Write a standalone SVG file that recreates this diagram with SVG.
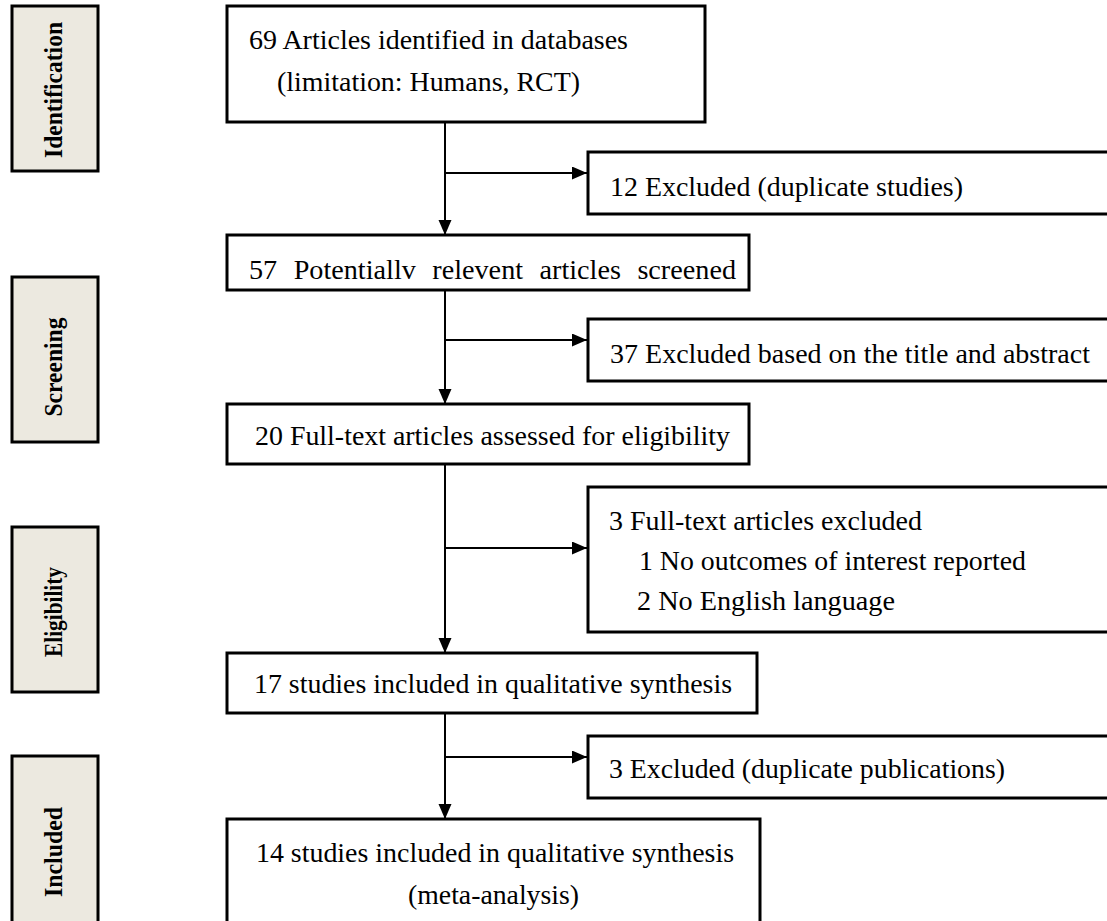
<svg xmlns="http://www.w3.org/2000/svg" width="1107" height="921" viewBox="0 0 1107 921">
<style>
.box{fill:#ffffff;stroke:#000000;stroke-width:3}
.side{fill:#ECE9E0;stroke:#000000;stroke-width:3}
.t{font-family:'Liberation Serif','Times New Roman',Times,serif;font-size:27px;fill:#000000}
.st{font-family:'Liberation Serif','Times New Roman',Times,serif;font-size:25px;font-weight:bold;fill:#000000}
.c{fill:none;stroke:#000000;stroke-width:2}
</style>
<defs>
<marker id="ah" markerUnits="userSpaceOnUse" markerWidth="16" markerHeight="14" refX="15" refY="6.5" orient="auto">
<path d="M0,0 L15,6.5 L0,13 Z" fill="#000000"/>
</marker>
</defs>
<rect width="1107" height="921" fill="#ffffff"/>
<g id="phase-identification">
<rect class="side" x="12" y="6" width="86" height="165"/>
<text class="st" x="62" y="90" text-anchor="middle" textLength="136" lengthAdjust="spacingAndGlyphs" transform="rotate(-90 62 90)">Identification</text>
</g>
<g id="phase-screening">
<rect class="side" x="12" y="277" width="86" height="165"/>
<text class="st" x="62" y="367" text-anchor="middle" textLength="99" lengthAdjust="spacingAndGlyphs" transform="rotate(-90 62 367)">Screening</text>
</g>
<g id="phase-eligibility">
<rect class="side" x="12" y="527" width="86" height="165"/>
<text class="st" x="62" y="612" text-anchor="middle" textLength="90" lengthAdjust="spacingAndGlyphs" transform="rotate(-90 62 612)">Eligibility</text>
</g>
<g id="phase-included">
<rect class="side" x="12" y="756" width="86" height="180"/>
<text class="st" x="62" y="852" text-anchor="middle" textLength="90" lengthAdjust="spacingAndGlyphs" transform="rotate(-90 62 852)">Included</text>
</g>
<g id="connectors">
<line class="c" x1="445" y1="122" x2="445" y2="235" marker-end="url(#ah)"/>
<line class="c" x1="445" y1="173" x2="587" y2="173" marker-end="url(#ah)"/>
<line class="c" x1="445" y1="290" x2="445" y2="404" marker-end="url(#ah)"/>
<line class="c" x1="445" y1="340" x2="587" y2="340" marker-end="url(#ah)"/>
<line class="c" x1="445" y1="464" x2="445" y2="653" marker-end="url(#ah)"/>
<line class="c" x1="445" y1="548" x2="587" y2="548" marker-end="url(#ah)"/>
<line class="c" x1="445" y1="713" x2="445" y2="819" marker-end="url(#ah)"/>
<line class="c" x1="445" y1="757" x2="587" y2="757" marker-end="url(#ah)"/>
</g>
<g id="n-identified">
<rect class="box" x="227" y="6" width="478" height="116"/>
<text class="t" x="249" y="49" textLength="379" lengthAdjust="spacingAndGlyphs">69 Articles identified in databases</text>
<text class="t" x="277" y="91" textLength="303" lengthAdjust="spacingAndGlyphs">(limitation: Humans, RCT)</text>
</g>
<g id="n-excl-duplicates">
<rect class="box" x="588" y="152" width="530" height="62"/>
<text class="t" x="610" y="196" textLength="353" lengthAdjust="spacingAndGlyphs">12 Excluded (duplicate studies)</text>
</g>
<g id="n-screened">
<rect class="box" x="227" y="235" width="522" height="55"/>
<text class="t" x="249" y="279" textLength="487" lengthAdjust="spacingAndGlyphs" word-spacing="9">57 Potentiallv relevent articles screened</text>
</g>
<g id="n-excl-title">
<rect class="box" x="588" y="319" width="530" height="62"/>
<text class="t" x="610" y="363" textLength="480" lengthAdjust="spacingAndGlyphs">37 Excluded based on the title and abstract</text>
</g>
<g id="n-fulltext">
<rect class="box" x="227" y="404" width="522" height="60"/>
<text class="t" x="255" y="445" textLength="475" lengthAdjust="spacingAndGlyphs">20 Full-text articles assessed for eligibility</text>
</g>
<g id="n-excl-fulltext">
<rect class="box" x="588" y="487" width="530" height="145"/>
<text class="t" x="609" y="530" textLength="313" lengthAdjust="spacingAndGlyphs">3 Full-text articles excluded</text>
<text class="t" x="639" y="570" textLength="387" lengthAdjust="spacingAndGlyphs">1 No outcomes of interest reported</text>
<text class="t" x="637" y="610" textLength="258" lengthAdjust="spacingAndGlyphs">2 No English language</text>
</g>
<g id="n-qualitative">
<rect class="box" x="227" y="653" width="530" height="60"/>
<text class="t" x="254" y="693" textLength="478" lengthAdjust="spacingAndGlyphs">17 studies included in qualitative synthesis</text>
</g>
<g id="n-excl-publications">
<rect class="box" x="588" y="736" width="530" height="62"/>
<text class="t" x="609" y="778" textLength="396" lengthAdjust="spacingAndGlyphs">3 Excluded (duplicate publications)</text>
</g>
<g id="n-meta">
<rect class="box" x="227" y="819" width="533" height="115"/>
<text class="t" x="256" y="862" textLength="478" lengthAdjust="spacingAndGlyphs">14 studies included in qualitative synthesis</text>
<text class="t" x="408" y="904" textLength="171" lengthAdjust="spacingAndGlyphs">(meta-analysis)</text>
</g>
</svg>
